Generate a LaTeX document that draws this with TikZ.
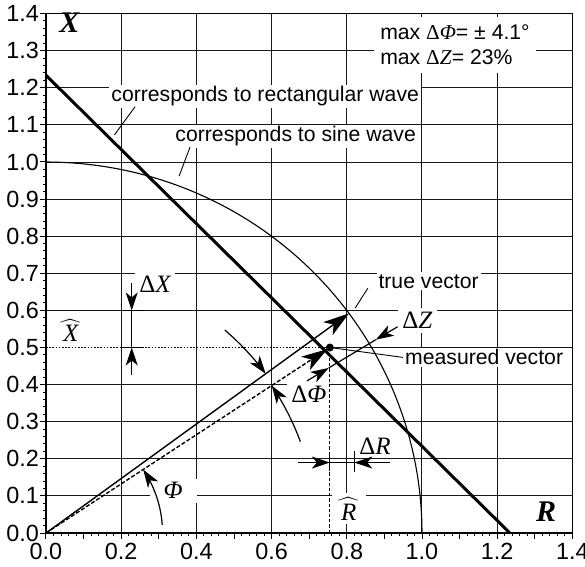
\documentclass[tikz,border=0pt]{standalone}
\usepackage{fontspec}
\setmainfont{Liberation Sans}
\newfontfamily\serf{Liberation Serif}
\usetikzlibrary{arrows.meta}
\begin{document}
\begin{tikzpicture}[x=188pt,y=185.5pt,
  gridln/.style={line width=0.5pt,black!90},
  axisln/.style={line width=1pt},
  tickln/.style={line width=0.5pt},
  txtlbl/.style={font=\fontsize{10.6}{12.5}\selectfont,fill=white,inner sep=1pt},
  mathlbl/.style={font=\fontsize{12.5}{14}\selectfont\serf,fill=white,inner sep=2pt},
  biglbl/.style={font=\fontsize{15}{17}\selectfont\serf\bfseries\itshape,inner sep=0pt},
  ticklbl/.style={font=\fontsize{11.7}{13}\selectfont,inner sep=0pt},
  leader/.style={line width=0.45pt},
  dimarr/.style={line width=0.6pt,-{Stealth[length=9pt,width=6pt,inset=2.5pt]}},
  dimln/.style={line width=0.6pt},
  vecarr/.style={line width=0.7pt,-{Stealth[length=13pt,width=8pt,inset=3.5pt]}},
  curveln/.style={line width=0.55pt},
  rectln/.style={line width=1.5pt},
  /pgf/number format/assume math mode=true,
]
\useasboundingbox (-0.1223,-0.0889) rectangle (1.4335,1.4367);
% grid
\foreach \xx in {0.2,0.4,0.6,0.8,1.0,1.2} \draw[gridln] (\xx,0) -- (\xx,1.4);
\foreach \yy in {0.1,0.2,0.3,0.4,0.6,0.7,0.8,0.9,1.0,1.1,1.2,1.3} \draw[gridln] (0,\yy) -- (1.4,\yy);
\coordinate (O) at (0,0);
\coordinate (T) at ({cos(36.3)},{sin(36.3)});
\coordinate (M) at (0.755,0.5);
\coordinate (Mx) at (0.755,0);
\coordinate (Y5) at (0,0.5);
\coordinate (G5) at (1.4,0.5);
\draw[gridln] (M) -- (G5);
% frame and axes
\draw[line width=0.6pt] (0,0) rectangle (1.4,1.4);
\draw[axisln] (0,1.4) -- (0,0) -- (1.4,0);
\foreach \i in {0,...,70} {\draw[tickln] (0,{\i*0.02}) -- ++(-1.5pt,0); \draw[tickln] ({\i*0.02},0) -- ++(0,-1.5pt);}
\foreach \i in {0,...,14} {\draw[tickln] (0,{\i*0.1}) -- ++(-3pt,0); \draw[tickln] ({\i*0.1},0) -- ++(0,-3pt);}
\foreach \i in {0,...,14} {\pgfmathsetmacro\yy{\i/10}
  \node[ticklbl,anchor=east] (yl\i) at (-0.018,\yy) {\pgfmathprintnumber[fixed,fixed zerofill,precision=1]{\yy}};}
\foreach \i in {0,...,7} {\pgfmathsetmacro\xx{\i/5}
  \node[ticklbl,anchor=north] (xl\i) at (\xx,-0.027) {\pgfmathprintnumber[fixed,fixed zerofill,precision=1]{\xx}};}
% labels
\node[biglbl,anchor=base] (Xax) at (0.0625,1.350) {X};
\node[biglbl,anchor=base] (Rax) at (1.33,0.030) {R};
\node[txtlbl,anchor=north west,align=left,inner xsep=3pt,inner ysep=4pt] (maxlbl) at (0.872,1.392)
  {max {\serf Δ\textit{Φ}}= ± 4.1°\\max {\serf Δ\textit{Z}}= 23\%};
\node[txtlbl,anchor=base west] (rectlbl) at (0.1676,1.162) {corresponds to rectangular wave};
\node[txtlbl,anchor=base west] (sinelbl) at (0.338,1.054) {corresponds to sine wave};
\node[txtlbl,anchor=base west] (truelbl) at (0.878,0.660) {true vector};
\node[txtlbl,anchor=base west] (measlbl) at (0.949,0.453) {measured vector};
\node[mathlbl,anchor=base] (dX) at (0.291,0.647) {Δ\textit{X}};
\node[mathlbl,anchor=base] (dZ) at (0.988,0.550) {Δ\textit{Z}};
\node[mathlbl,anchor=base] (dPhi) at (0.699,0.353) {Δ\textit{Φ}};
\node[mathlbl,anchor=base] (dR) at (0.875,0.213) {Δ\textit{R}};
\node[mathlbl,anchor=base,inner xsep=7pt] (phi) at (0.338,0.092) {\textit{Φ}};
\node[mathlbl,anchor=base] (Xh) at (0.066,0.515) {$\widehat{\hbox to 13pt{\hss\serf\itshape X\hss}}$};
\node[mathlbl,anchor=base] (Rh) at (0.805,0.035) {$\widehat{\hbox to 13pt{\hss\serf\itshape R\hss}}$};
% curves
\draw[curveln] plot[domain=90:0,samples=90] ({cos(\x)},{sin(\x)});
\coordinate (RW1) at (0,1.2337);
\coordinate (RW2) at (1.2337,0);
\draw[rectln] (RW1) -- (RW2);
% projections
\draw[line width=0.9pt,dash pattern=on 0.8pt off 0.8pt] (Y5) -- (M);
\draw[line width=0.5pt,dash pattern=on 1.6pt off 1pt] (M) -- (Mx);
% vectors
\draw[vecarr] (O) -- (T);
\draw[vecarr,dash pattern=on 2pt off 1pt,shorten >=1.5pt] (O) -- (M);
\fill (M) circle[radius=2pt];
% leaders
\coordinate (rl0) at (0.237,1.149); \coordinate (rl1) at (0.182,1.073);
\draw[leader] (rl0) -- (rl1);
\coordinate (sl0) at (0.383,1.040); \coordinate (sl1) at (0.354,0.962);
\draw[leader] (sl0) -- (sl1);
\coordinate (tl0) at (0.856,0.660); \coordinate (tl1) at (0.822,0.606);
\draw[leader] (tl0) -- (tl1);
\draw[leader] (measlbl.west) -- (M);
% Delta X
\coordinate (x0) at (0.228,0.674); \coordinate (x1) at (0.228,0.6);
\coordinate (x2) at (0.228,0.5); \coordinate (x3) at (0.228,0.426);
\draw[dimarr] (x0) -- (x1);
\draw[dimarr] (x3) -- (x2);
\draw[dimln] (x1) -- (x2);
\draw[dimln] (0.197,0.6) -- (0.258,0.6);
\draw[dimln] (0.197,0.5) -- (0.258,0.5);
% Delta R
\coordinate (r0) at (0.67,0.19); \coordinate (r1) at (0.755,0.19);
\coordinate (r2) at (0.82,0.19); \coordinate (r3) at (0.915,0.19);
\draw[dimarr] (r0) -- (r1);
\draw[dimarr] (r3) -- (r2);
\draw[dimln] (r1) -- (r2);
\draw[dimln] (r1) ++(0,-0.022) -- ++(0,0.047);
\draw[dimln] (r2) ++(0,-0.025) -- ++(0,0.055);
% Delta Z
\coordinate (z0) at (0.694,0.410); \coordinate (z1) at (0.752,0.445);
\coordinate (z2) at (0.877,0.521); \coordinate (z3) at (0.935,0.556);
\draw[dimarr] (z0) -- (z1);
\draw[dimarr] (z3) -- (z2);
\draw[dimln] (z1) -- (z2);
% angle arcs
\draw[dimarr] plot[domain=49:36.3,samples=25] ({0.725*cos(\x)},{0.725*sin(\x)});
\draw[dimarr] plot[domain=20:33.5,samples=25] ({0.72*cos(\x)},{0.72*sin(\x)});
\draw[dimarr] plot[domain=4:33.5,samples=30] ({0.31*cos(\x)},{0.31*sin(\x)});
\end{tikzpicture}
\end{document}
